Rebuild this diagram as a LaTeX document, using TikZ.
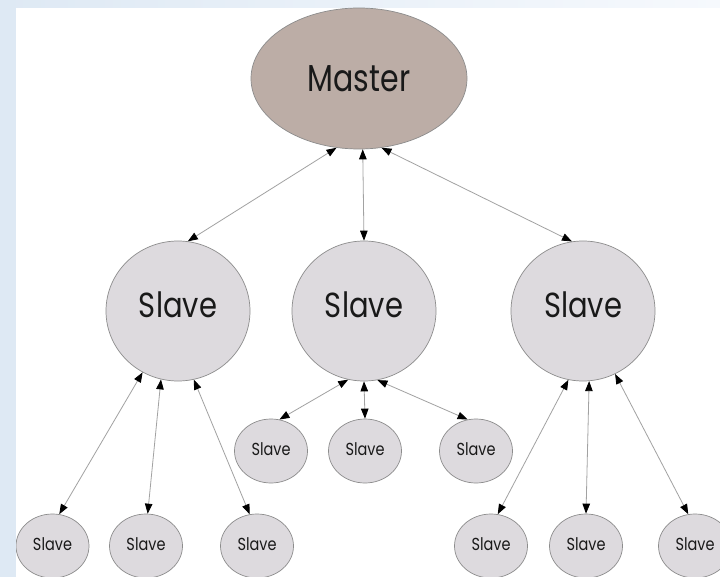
\documentclass[tikz,border=0pt]{standalone}
\usepackage{fontspec}
\setmainfont{Poppins}
\usetikzlibrary{shapes.geometric,arrows.meta}

\definecolor{bandblue}{HTML}{DEE9F4}
\definecolor{bandpale}{HTML}{F6F9FD}
\definecolor{masterfill}{HTML}{BCADA6}
\definecolor{slavefill}{HTML}{DDDADE}
\definecolor{rimgray}{HTML}{8C8C8C}
\definecolor{linkgray}{HTML}{A2A2A2}

% tall, narrow lettering, set on a zero-size box lowered by #2
\newcommand\talltext[3]{\raisebox{#2}[0pt][0pt]{\scalebox{1}[#1]{#3}}}

\tikzset{
  node shape/.style={ellipse, draw=rimgray, line width=0.7pt, inner sep=0pt, text=black!90},
  masternode/.style={node shape, fill=masterfill, minimum width=216pt, minimum height=141pt, font=\fontsize{30}{30}\selectfont},
  bigslave/.style={node shape, fill=slavefill, minimum width=144pt, minimum height=140pt, font=\fontsize{29}{29}\selectfont},
  smallslave/.style={node shape, fill=slavefill, minimum width=73pt, minimum height=64pt, font=\fontsize{14.5}{14.5}\selectfont},
  link/.style={draw=linkgray, line width=0.8pt,
    {Triangle[length=10pt,width=7.5pt,color=black]}-{Triangle[length=10pt,width=7.5pt,color=black]}}
}

\begin{document}
\begin{tikzpicture}[x=1pt,y=-1pt]
  % page frame: pale blue band on the top and left, white sheet
  \useasboundingbox (0,0) rectangle (720,577);
  \shade[left color=bandblue, right color=bandpale] (0,0) rectangle (720,8);
  \fill[bandblue] (0,0) rectangle (16,577);
  \fill[white] (16,8) rectangle (720,577);

  \begin{scope}
    \clip (16,8) rectangle (720,577);

    % master
    \node[masternode] (m) at (359,78.5) {\talltext{1.25}{-13.5pt}{Master}};

    % first tier
    \node[bigslave] (s1) at (178,311) {\talltext{1.2}{-6.5pt}{Slave}};
    \node[bigslave] (s2) at (364,311) {\talltext{1.2}{-6.5pt}{Slave}};
    \node[bigslave] (s3) at (583,311) {\talltext{1.2}{-6.5pt}{Slave}};

    % second tier under the middle slave
    \node[smallslave] (s21) at (271,451) {\talltext{1.2}{-4pt}{Slave}};
    \node[smallslave] (s22) at (365,451) {\talltext{1.2}{-4pt}{Slave}};
    \node[smallslave] (s23) at (476,451) {\talltext{1.2}{-4pt}{Slave}};

    % second tier under the outer slaves
    \node[smallslave] (s11) at (52.5,546) {\talltext{1.2}{-4pt}{Slave}};
    \node[smallslave] (s12) at (146,546) {\talltext{1.2}{-4pt}{Slave}};
    \node[smallslave] (s13) at (257,546) {\talltext{1.2}{-4pt}{Slave}};
    \node[smallslave] (s31) at (491,546) {\talltext{1.2}{-4pt}{Slave}};
    \node[smallslave] (s32) at (586,546) {\talltext{1.2}{-4pt}{Slave}};
    \node[smallslave] (s33) at (695,546) {\talltext{1.2}{-4pt}{Slave}};

    % master <-> first tier
    \draw[link] (m.252) -- (s1.82);
    \draw[link] (m.273) -- (s2.90);
    \draw[link] (m.288) -- (s3.99);

    % left branch
    \draw[link] (s1.240) -- (s11.78);
    \draw[link] (s1.256) -- (s12.87);
    \draw[link] (s1.283) -- (s13.103);

    % middle branch
    \draw[link] (s2.257) -- (s21.75);
    \draw[link] (s2.270) -- (s22.90);
    \draw[link] (s2.281) -- (s23.105);

    % right branch
    \draw[link] (s3.258) -- (s31.78);
    \draw[link] (s3.275) -- (s32.90);
    \draw[link] (s3.297) -- (s33.102);
  \end{scope}
\end{tikzpicture}
\end{document}
